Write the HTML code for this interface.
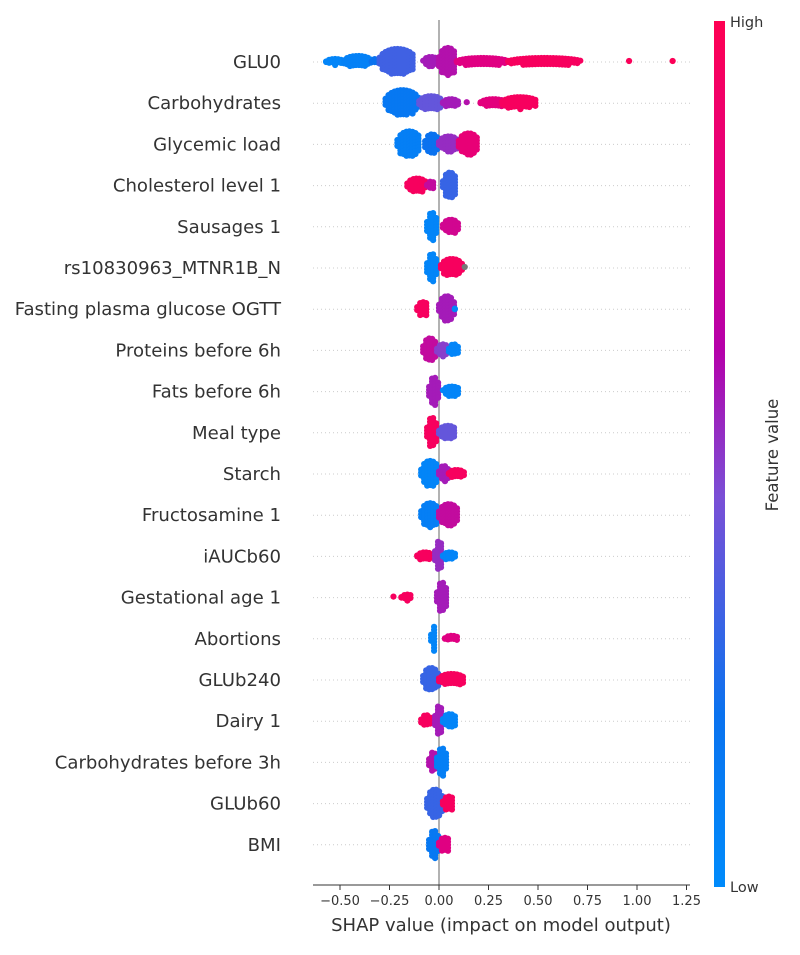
<!DOCTYPE html>
<html><head><meta charset="utf-8"><style>
html,body{margin:0;padding:0;background:#fff;}
svg text{font-family:"DejaVu Sans","Liberation Sans",sans-serif;}
</style></head><body>
<svg id="chart" width="800" height="950" xmlns="http://www.w3.org/2000/svg">
<defs>
<linearGradient id="cmap" x1="0" y1="1" x2="0" y2="0">
<stop offset="0" stop-color="#008bfb"/><stop offset="0.2" stop-color="#0a72ef"/>
<stop offset="0.45" stop-color="#7a4fd6"/><stop offset="0.62" stop-color="#b500aa"/>
<stop offset="0.8" stop-color="#e00082"/><stop offset="1" stop-color="#ff0052"/>
</linearGradient>
</defs>
<g id="grid"></g>
<line x1="439" y1="20" x2="439" y2="885" stroke="#999" stroke-width="1.5"/>
<g id="dots"></g>
<g id="labels"></g>
<g id="xaxis"></g>
<text x="501" y="931" font-size="18" text-anchor="middle" fill="#333">SHAP value (impact on model output)</text>
<rect x="714" y="21" width="11" height="866" fill="url(#cmap)"/>
<text x="730" y="27" font-size="14.5" fill="#333">High</text>
<text x="730" y="892" font-size="14.5" fill="#333">Low</text>
<text transform="translate(778,455) rotate(-90)" font-size="16.5" text-anchor="middle" fill="#333">Feature value</text>
</svg>
<script>
const features=["GLU0","Carbohydrates","Glycemic load","Cholesterol level 1","Sausages 1","rs10830963_MTNR1B_N","Fasting plasma glucose OGTT","Proteins before 6h","Fats before 6h","Meal type","Starch","Fructosamine 1","iAUCb60","Gestational age 1","Abortions","GLUb240","Dairy 1","Carbohydrates before 3h","GLUb60","BMI"];
// clusters: [shapStart, shapEnd, halfHeightPx, featureValue]
const clusters=[
[[-0.57,-0.48,4,0.05],[-0.48,-0.34,7,0.08],[-0.34,-0.30,4,0.2],[-0.30,-0.12,14,0.32],[-0.08,0.0,6,0.6],[0.0,0.09,15,0.65],[0.09,0.35,5,0.8],[0.35,0.72,5,0.95],[0.96,0.96,2,0.97],[1.18,1.18,2,0.98]],
[[-0.27,-0.10,14,0.15],[-0.10,0.02,8,0.4],[0.02,0.10,5,0.6],[0.14,0.14,2,0.65],[0.21,0.34,5,0.82],[0.32,0.50,7,0.95]],
[[-0.21,-0.09,14,0.1],[-0.07,0.0,11,0.2],[0.0,0.10,9,0.55],[0.10,0.20,12,0.85]],
[[-0.16,-0.06,8,0.95],[-0.06,-0.02,5,0.7],[0.02,0.09,14,0.3]],
[[-0.06,-0.01,15,0.05],[0.02,0.10,8,0.75]],
[[-0.06,-0.01,15,0.05],[0.01,0.12,10,0.95],[0.13,0.13,2,-1]],
[[-0.11,-0.05,8,0.95],[0.0,0.08,14,0.6],[0.08,0.09,4,0.05]],
[[-0.08,-0.01,13,0.7],[-0.01,0.05,7,0.5],[0.05,0.10,7,0.05]],
[[-0.05,0.0,15,0.6],[0.02,0.11,6,0.05]],
[[-0.06,-0.01,16,0.95],[0.0,0.09,8,0.4]],
[[-0.09,0.0,14,0.05],[0.0,0.05,9,0.6],[0.05,0.13,5,0.95]],
[[-0.09,0.0,13,0.1],[0.0,0.10,12,0.7]],
[[-0.11,-0.03,5,0.95],[-0.02,0.02,16,0.55],[0.02,0.09,5,0.05]],
[[-0.23,-0.23,2,0.95],[-0.19,-0.13,4,0.95],[-0.01,0.04,16,0.6]],
[[-0.04,-0.01,13,0.05],[0.03,0.10,4,0.8]],
[[-0.08,0.0,13,0.3],[0.0,0.13,7,0.95]],
[[-0.09,-0.04,7,0.95],[-0.02,0.02,16,0.6],[0.02,0.09,8,0.05]],
[[-0.05,-0.01,11,0.65],[-0.01,0.04,15,0.1]],
[[-0.06,0.02,15,0.3],[0.02,0.08,8,0.95]],
[[-0.05,0.0,15,0.15],[0.0,0.06,8,0.8]]
];
const xTicks=[-0.5,-0.25,0,0.25,0.5,0.75,1.0,1.25];
const xTickLabels=["−0.50","−0.25","0.00","0.25","0.50","0.75","1.00","1.25"];
const NS="http://www.w3.org/2000/svg";
const xS=v=>439+v*198;
const yS=i=>62+i*41.2;
const stops=[[0,[0,139,251]],[0.2,[10,114,239]],[0.45,[122,79,214]],[0.62,[170,20,180]],[0.8,[224,0,130]],[1,[255,0,82]]];
function col(t){
  if(t<0)return "#777";
  for(let k=1;k<stops.length;k++){if(t<=stops[k][0]){const a=stops[k-1],b=stops[k];const f=(t-a[0])/(b[0]-a[0]);
  const c=a[1].map((v,j)=>Math.round(v+(b[1][j]-v)*f));return `rgb(${c})`;}}
  return "rgb(255,0,82)";
}
function mk(tag,attrs,parent){const e=document.createElementNS(NS,tag);for(const k in attrs)e.setAttribute(k,attrs[k]);parent.appendChild(e);return e;}
const grid=document.getElementById('grid'),dots=document.getElementById('dots'),labels=document.getElementById('labels'),xa=document.getElementById('xaxis');
features.forEach((f,i)=>{
  const y=yS(i);
  const g=mk('line',{x1:313,x2:690,y1:y,y2:y,stroke:'#ccc','stroke-width':1,'stroke-dasharray':'1,3'},grid);
  
  
  const t=mk('text',{x:281,y:y+6,'font-size':18.1,'text-anchor':'end',fill:'#333'},labels);
  t.textContent=f;
  
  
  clusters[i].forEach(c=>{
    const x0=xS(c[0]),x1=xS(c[1]),h=c[2],color=col(c[3]);
    const grp=mk('g',{fill:color},dots);
    
    
    const w=x1-x0,cx=(x0+x1)/2;
    for(let x=x0;x<=x1+0.01;x+=3){
      const tt=w>0?Math.abs(x-cx)/(w/2):0;
      const hh=Math.max(1,h*Math.sqrt(Math.max(0,1-tt*tt*0.85)));
      for(let dy=-hh+1;dy<=hh-1+0.01;dy+=3){
        const p=mk('circle',{cx:x,cy:y+dy,r:3.1},grp);
        
        
      }
      if(hh<2){const p=mk('circle',{cx:x,cy:y,r:3.1},grp);
        
        }
    }
  });
});
const ax=mk('line',{x1:313,x2:690,y1:885,y2:885,stroke:'#333','stroke-width':1},xa);


xTicks.forEach((v,k)=>{
  const tk=mk('line',{x1:xS(v),x2:xS(v),y1:885,y2:890,stroke:'#333'},xa);
  
  
  const tl=mk('text',{x:xS(v),y:905,'font-size':13,'text-anchor':'middle',fill:'#333'},xa);
  tl.textContent=xTickLabels[k];
  
  
});
</script>
</body></html>
